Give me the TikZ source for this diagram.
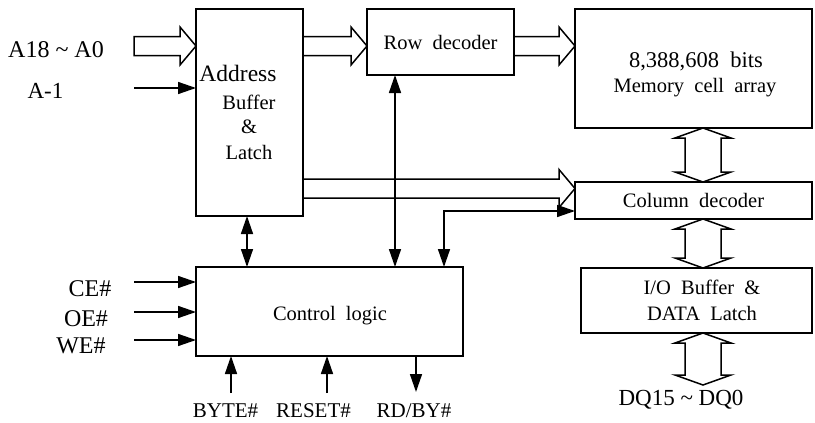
\documentclass[tikz,border=0pt]{standalone}
\usepackage{fontspec}
\setmainfont{Liberation Serif}
\usetikzlibrary{arrows.meta,calc}
\tikzset{
  blk/.style={draw, line width=1.6pt, inner sep=0pt, outer sep=0pt},
  lbl/.style={font=\fontsize{24}{26}\selectfont, inner sep=0pt, anchor=base},
  lblsm/.style={font=\fontsize{21}{24}\selectfont, inner sep=0pt, anchor=base},
  txt/.style={font=\fontsize{20.5}{24}\selectfont, inner sep=0pt},
  sig/.style={line width=1.5pt, -{Triangle[length=18pt,width=12pt]}},
  sig2/.style={line width=1.5pt, {Triangle[length=18pt,width=12pt]}-{Triangle[length=18pt,width=12pt]}},
  fat/.style={line width=1.5pt, line join=miter, fill=white},
}
% fat right arrow from #1 to #2 (same y as #1)
\newcommand\fatRight[2]{%
  \draw[fat] let \p1=(#1), \p2=(#2) in
    (\x1,\y1+9.5pt) -- (\x2-16pt,\y1+9.5pt) -- (\x2-16pt,\y1+19pt) -- (\x2,\y1)
    -- (\x2-16pt,\y1-19pt) -- (\x2-16pt,\y1-9.5pt) -- (\x1,\y1-9.5pt) -- cycle;}
% fat vertical double arrow from #1 (top) to #2 (bottom)
\newcommand\fatUpDown[2]{%
  \draw[fat] let \p1=(#1), \p2=(#2) in
    (\x1,\y1) -- (\x1+28pt,\y1-10pt) -- (\x1+18pt,\y1-10pt) -- (\x1+18pt,\y2+10pt)
    -- (\x1+28pt,\y2+10pt) -- (\x1,\y2) -- (\x1-28pt,\y2+10pt) -- (\x1-18pt,\y2+10pt)
    -- (\x1-18pt,\y1-10pt) -- (\x1-28pt,\y1-10pt) -- cycle;}
\begin{document}
\begin{tikzpicture}[x=1pt,y=-1pt]
\useasboundingbox (0,0) rectangle (815,423);
% blocks
\node[blk, minimum width=107pt, minimum height=207pt] (addr) at (249.5,112.5) {};
\node[blk, minimum width=147pt, minimum height=66pt] (row) at (440.5,42) {};
\node[blk, minimum width=237pt, minimum height=119pt] (mem) at (693.5,68.5) {};
\node[blk, minimum width=237pt, minimum height=37pt] (col) at (693.5,200.5) {};
\node[blk, minimum width=231pt, minimum height=65pt] (io) at (696.5,300.5) {};
\node[blk, minimum width=267pt, minimum height=89pt] (ctl) at (329.5,311.5) {};
% block texts
\node[txt, font=\fontsize{23.5}{26}\selectfont] (taddr) at (238,73) {Address};
\node[txt] (tbuf) at (249,102) {Buffer};
\node[txt] (tamp) at (249,127) {\&};
\node[txt] (tlatch) at (249,152) {Latch};
\node[txt] at (row.center) (trow) {Row\ \ decoder};
\node[txt, font=\fontsize{22.5}{26}\selectfont] (tmem1) at (696,61) {8,388,608\ \ bits};
\node[txt] (tmem2) at (695,88) {Memory\ \ cell\ \ array};
\node[txt] at (col.center) (tcol) {Column\ \ decoder};
\node[txt] (tio1) at (702,287) {I/O\ \ Buffer\ \ \&};
\node[txt] (tio2) at (702,313) {DATA\ \ Latch};
\node[txt] (tctl) at (330,316) {Control\ \ logic};
% labels
\node[lbl] (lA) at (56,57) {A18 \textasciitilde\ A0};
\node[lbl, font=\fontsize{23}{26}\selectfont] (lA1) at (45.5,98) {A-1};
\node[lbl] (lce) at (90,296) {CE\#};
\node[lbl] (loe) at (86,326) {OE\#};
\node[lbl] (lwe) at (81,353) {WE\#};
\node[lblsm] (lbyte) at (225.5,417) {BYTE\#};
\node[lblsm] (lreset) at (313.5,417) {RESET\#};
\node[lblsm] (lrdby) at (414,417) {RD/BY\#};
\node[lbl, font=\fontsize{23}{26}\selectfont] (ldq) at (681,405) {DQ15 \textasciitilde\ DQ0};
% free ends
\coordinate (cA) at (134,46);
\coordinate (cA1) at (134,88);
\coordinate (cce) at (134,282);
\coordinate (coe) at (134,312);
\coordinate (cwe) at (134,340);
\coordinate (cbyte) at (231,393);
\coordinate (creset) at (327,393);
\coordinate (crdby) at (416,392);
\coordinate (cdq) at (703,385);
\coordinate (bend) at (444,211);
% fat arrows
\fatRight{cA}{addr.west}
\fatRight{addr.east |- cA}{row.west}
\fatRight{row.east |- cA}{mem.west}
\fatRight{addr.east |- 0,188.5}{col.west}
\fatUpDown{mem.south -| cdq}{col.north}
\fatUpDown{col.south -| cdq}{io.north}
\fatUpDown{io.south -| cdq}{cdq}
% thin signals
\draw[sig] (cA1) -- (cA1 -| addr.west);
\draw[sig] (cce) -- (cce -| ctl.west);
\draw[sig] (coe) -- (coe -| ctl.west);
\draw[sig] (cwe) -- (cwe -| ctl.west);
\draw[sig] (cbyte) -- (cbyte |- ctl.south);
\draw[sig] (creset) -- (creset |- ctl.south);
\draw[sig] (crdby |- ctl.south) -- (crdby);
\draw[sig2] (addr.south -| 247,0) -- (ctl.north -| 247,0);
\draw[sig2] (row.south -| 395,0) -- (ctl.north -| 395,0);
\draw[sig2] (ctl.north -| bend) -- (bend) -- (bend -| col.west);
\end{tikzpicture}
\end{document}
